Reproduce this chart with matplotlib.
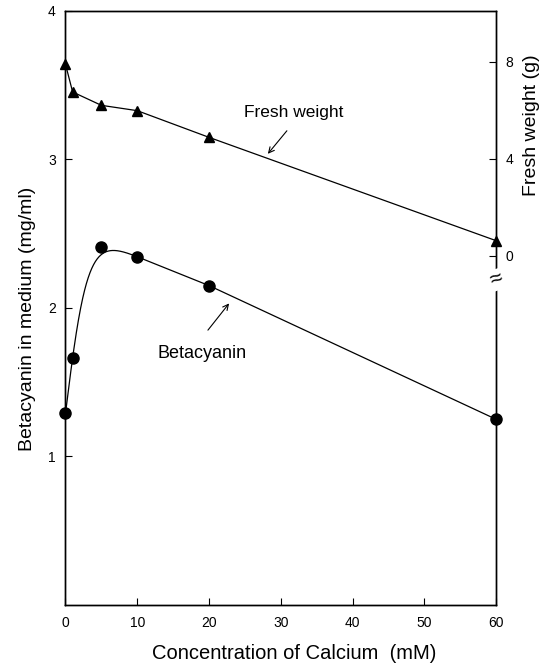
import matplotlib.pyplot as plt
import numpy as np

plt.rcParams['font.family'] = ['Liberation Sans', 'DejaVu Sans']

# calcium concentration (mM)
calcium = [0, 1, 5, 10, 20, 60]
# betacyanin in medium (mg/ml), left axis
betacyanin = [1.29, 1.66, 2.41, 2.34, 2.15, 1.25]
# fresh weight (g), right axis
fresh_weight = [7.9, 6.75, 6.2, 5.98, 4.88, 0.62]

x_ticks = [0, 10, 20, 30, 40, 50, 60]
left_ticks = [1, 2, 3, 4]
right_ticks = [0, 4, 8]

fig = plt.figure(figsize=(5.5, 6.7), dpi=100)
ax = fig.add_axes([0.119, 0.097, 0.783, 0.887])
ax2 = ax.twinx()

ax.set_xlim(0, 60)
ax.set_ylim(0, 4)
ax2.set_ylim(-14.4, 10.1)

# betacyanin: fitted saturating rise over 0-10 mM (a + b*tanh(x/c) + d*x,
# d taken from the linear tail), then straight segments
x_low = np.array(calcium[:4], dtype=float)
y_low = np.array(betacyanin[:4], dtype=float)
d = (betacyanin[5] - betacyanin[3]) / (calcium[5] - calcium[3])
w = np.array([3.0, 3.0, 1.0, 3.0])
best = None
for c in np.linspace(1.0, 6.0, 300):
    A = np.column_stack([np.ones_like(x_low), np.tanh(x_low / c)])
    rhs = y_low - d * x_low
    p = np.linalg.lstsq(A * w[:, None], rhs * w, rcond=None)[0]
    err = np.sum((w * (A @ p - rhs)) ** 2)
    if best is None or err < best[0]:
        best = (err, c, p)
_, c, p = best
xs = np.linspace(0, 10, 200)
ys = p[0] + p[1] * np.tanh(xs / c) + d * xs
ax.plot(xs, ys, color='black', lw=0.9)
ax.plot([10] + calcium[4:], [ys[-1]] + betacyanin[4:], color='black', lw=0.9)
ax.plot(calcium, betacyanin, 'o', color='black', ms=8, clip_on=False, zorder=5)

# fresh weight polyline
ax2.plot(calcium, fresh_weight, '-^', color='black', lw=0.9, ms=7.5,
         clip_on=False, zorder=5)

# ticks
ax.set_xticks(x_ticks)
ax.set_yticks(left_ticks)
ax2.set_yticks(right_ticks)
ax.tick_params(direction='in', length=5, width=0.8, labelsize=10, pad=7)
ax.tick_params(axis='x', top=False, pad=8)
ax2.tick_params(direction='in', length=5, width=0.8, labelsize=10, pad=7)
for sp in list(ax.spines.values()) + list(ax2.spines.values()):
    sp.set_linewidth(1.0)

ax.set_xlabel('Concentration of Calcium  (mM)', fontsize=14.5, va='top')
ax.xaxis.set_label_coords(0.53, -0.066)
ax.set_ylabel('Betacyanin in medium (mg/ml)', fontsize=14)
ax.yaxis.set_label_coords(-0.069, 0.481)
ax2.set_ylabel('Fresh weight (g)', fontsize=14)
ax2.yaxis.set_label_coords(1.063, 0.808)

# axis break on the right spine
ax2.text(60, -1.0, '\u2248', ha='center', va='center', fontsize=16,
         rotation=20, clip_on=False,
         bbox=dict(facecolor='white', edgecolor='none', pad=0.0))

# annotations
ax2.text(31.8, 5.9, 'Fresh weight', ha='center', va='center', fontsize=12.5)
ax2.annotate('', xy=(28.2, 4.2), xytext=(30.85, 5.15),
             arrowprops=dict(arrowstyle='->', color='black', lw=0.8,
                             shrinkA=0, shrinkB=0))
ax.text(19.0, 1.69, 'Betacyanin', ha='center', va='center', fontsize=13)
ax.annotate('', xy=(22.8, 2.03), xytext=(19.85, 1.85),
            arrowprops=dict(arrowstyle='->', color='black', lw=0.8,
                            shrinkA=0, shrinkB=0))

fig.savefig('out.png', dpi=100)
